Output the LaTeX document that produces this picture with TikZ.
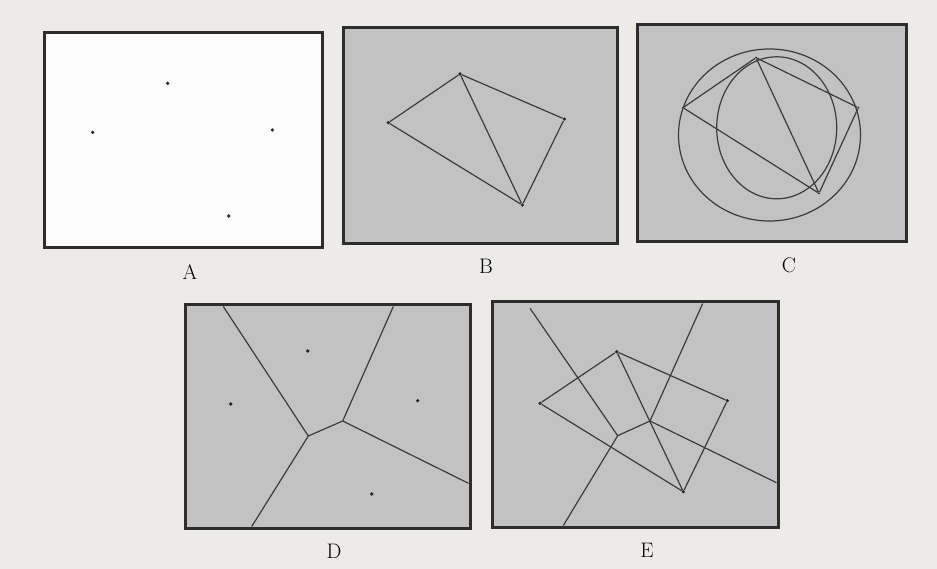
\documentclass[tikz,border=0pt]{standalone}
\usepackage{tikz}
\definecolor{pageG}{RGB}{236,235,232}
\definecolor{panelG}{RGB}{194,194,194}
\definecolor{frameG}{RGB}{45,45,45}
\definecolor{lineG}{RGB}{60,60,60}

\begin{document}
\begin{tikzpicture}[x=1pt,y=-1pt,
  panel/.style={draw=frameG,line width=3pt,fill=panelG},
  edge/.style={lineG,line width=1.2pt},
  site/.style={circle,fill=black!85,inner sep=0pt,minimum size=3.6pt},
  lab/.style={font=\fontsize{21}{24}\selectfont}]
\fill[pageG] (0,0) rectangle (937,569);
\begin{scope}
\draw[panel,fill=white!97!gray] (44,33) rectangle (322,248);
\node[site] (a1) at (167.7,83.3) {};
\node[site] (a2) at (92.7,132.3) {};
\node[site] (a3) at (272.3,130) {};
\node[site] (a4) at (228.7,216) {};
\node[lab] (labA) at (190,272) {A};
\end{scope}
\begin{scope}
\draw[panel] (343,28) rectangle (617,244);
\node[site] (b1) at (460,74) {};
\node[site] (b2) at (388.3,122.7) {};
\node[site] (b3) at (564.3,119) {};
\node[site] (b4) at (522.3,205) {};
\draw[edge] (b1)--(b2)--(b4)--(b3)--(b1)--(b4);
\node[lab] (labB) at (486,266) {B};
\end{scope}
\begin{scope}
\draw[panel] (637,25) rectangle (906,242);
\node[site,minimum size=2pt] (c1) at (756,57.7) {};
\node[site,minimum size=2pt] (c2) at (683,107.7) {};
\node[site,minimum size=2pt] (c3) at (858.3,107.7) {};
\node[site,minimum size=2pt] (c4) at (819,193.3) {};
\draw[edge] (c1)--(c2)--(c4)--(c3)--(c1)--(c4);
\draw[edge] (769.5,135) ellipse (91 and 86);
\draw[edge] (776.7,127.8) ellipse (60 and 71);
\node[lab] (labC) at (789,265) {C};
\end{scope}
\begin{scope}
\draw[panel] (185,305) rectangle (470,528);
\node[site] (d1) at (307.7,351) {};
\node[site] (d2) at (230.7,404) {};
\node[site] (d3) at (417.7,400.7) {};
\node[site] (d4) at (371.7,494) {};
\coordinate (dv1) at (308.3,436);
\coordinate (dv2) at (342.7,421);
\coordinate (dn) at (223.3,306.5);
\coordinate (dne) at (393.3,306.5);
\coordinate (de) at (468.5,483.3);
\coordinate (ds) at (251.7,526.5);
\draw[edge] (dn)--(dv1)--(dv2)--(dne) (dv2)--(de) (dv1)--(ds);
\node[lab] (labD) at (334,551) {D};
\end{scope}
\begin{scope}
\draw[panel] (492,302) rectangle (778,527);
\node[site] (e1) at (616.7,351.7) {};
\node[site] (e2) at (540,403.3) {};
\node[site] (e3) at (727.3,400.7) {};
\node[site] (e4) at (683.3,491.7) {};
\draw[edge] (e1)--(e2)--(e4)--(e3)--(e1)--(e4);
\coordinate (ev1) at (617.7,435.7);
\coordinate (ev2) at (650,421);
\coordinate (en) at (530,308.3);
\coordinate (ene) at (702.7,303.5);
\coordinate (ee) at (776.5,482.7);
\coordinate (es) at (563.3,525.5);
\draw[edge] (en)--(ev1)--(ev2)--(ene) (ev2)--(ee) (ev1)--(es);
\node[lab] (labE) at (647,550) {E};
\end{scope}
\end{tikzpicture}
\end{document}
